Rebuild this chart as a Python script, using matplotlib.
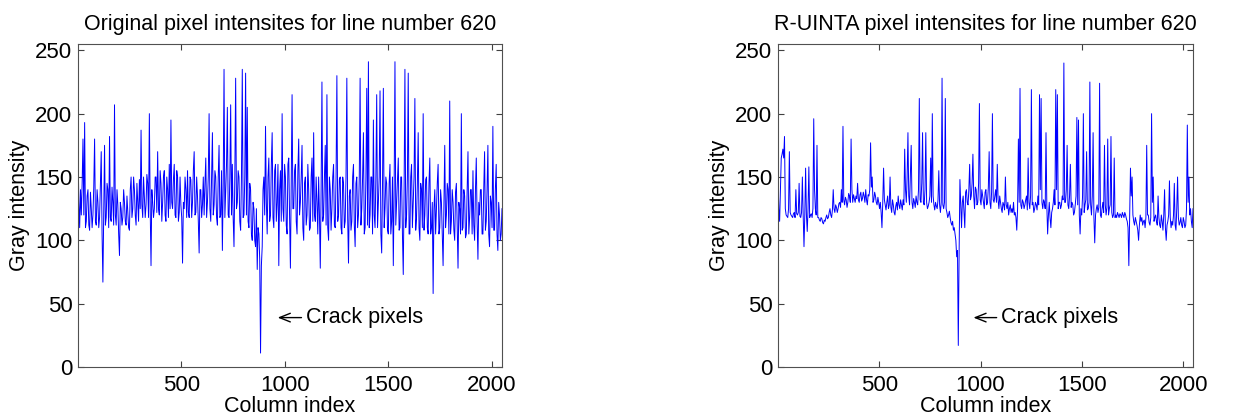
import matplotlib.pyplot as plt
import numpy as np

plt.rcParams['font.family'] = ['Liberation Sans', 'DejaVu Sans']

# gray levels, one sample every 8 columns
original = [
    172, 110, 120, 180, 193, 115, 140, 108, 125, 120, 180, 112, 130, 118, 170, 67,
    175, 118, 140, 182, 115, 130, 207, 112, 128, 88, 125, 118, 130, 112, 122, 108,
    150, 125, 140, 112, 130, 148, 187, 118, 135, 128, 145, 200, 80, 130, 125, 150,
    170, 120, 145, 130, 155, 115, 140, 160, 195, 125, 160, 118, 150, 122, 128, 82,
    125, 140, 155, 118, 148, 130, 170, 122, 135, 90, 140, 128, 120, 165, 130, 200,
    115, 185, 128, 150, 112, 175, 120, 92, 235, 140, 205, 118, 207, 160, 95, 228,
    130, 150, 108, 235, 120, 232, 205, 110, 140, 100, 125, 95, 77, 105, 11, 95,
    150, 190, 105, 165, 120, 185, 110, 160, 130, 80, 155, 200, 115, 150, 105, 165,
    78, 215, 125, 160, 105, 180, 130, 175, 100, 150, 120, 140, 110, 165, 185, 115,
    130, 150, 78, 225, 120, 175, 215, 100, 140, 125, 160, 110, 230, 120, 150, 105,
    145, 115, 228, 82, 140, 115, 160, 95, 150, 120, 228, 125, 185, 110, 220, 241,
    120, 150, 195, 110, 215, 130, 218, 90, 220, 125, 145, 105, 160, 115, 80, 241,
    130, 165, 110, 150, 73, 235, 120, 232, 105, 160, 130, 212, 118, 185, 100, 140,
    200, 120, 150, 105, 165, 110, 58, 140, 125, 160, 110, 130, 80, 175, 120, 140,
    210, 115, 130, 100, 145, 78, 125, 200, 110, 135, 105, 170, 118, 140, 155, 100,
    165, 85, 120, 140, 105, 170, 115, 175, 95, 130, 190, 108, 160, 92, 120, 105,
]
# band values between those samples (4 columns further on)
original_mid = [
    130, 140, 145, 120, 110, 135, 112, 138, 110, 142, 115, 140, 110, 145, 105, 120,
    112, 145, 110, 118, 142, 112, 120, 140, 105, 130, 112, 140, 115, 135, 110, 140,
    118, 150, 120, 145, 115, 125, 128, 150, 118, 152, 118, 125, 140, 118, 150, 122,
    125, 155, 115, 150, 120, 150, 118, 125, 130, 148, 120, 155, 115, 150, 118, 130,
    150, 118, 122, 150, 118, 155, 120, 150, 115, 140, 118, 150, 145, 118, 150, 125,
    150, 120, 155, 118, 150, 118, 155, 145, 118, 160, 120, 150, 120, 118, 150, 125,
    155, 115, 150, 118, 150, 120, 115, 145, 105, 130, 100, 125, 110, 85, 80, 140,
    120, 130, 150, 115, 160, 118, 155, 115, 160, 140, 115, 125, 160, 112, 160, 118,
    150, 125, 155, 115, 155, 120, 150, 110, 145, 112, 160, 108, 150, 115, 120, 150,
    105, 120, 140, 115, 150, 112, 110, 150, 108, 150, 112, 150, 115, 148, 110, 150,
    110, 150, 118, 135, 108, 150, 112, 145, 110, 150, 112, 150, 105, 150, 112, 110,
    150, 105, 120, 150, 110, 150, 105, 145, 110, 150, 108, 145, 105, 150, 140, 112,
    150, 108, 150, 105, 140, 110, 150, 105, 150, 110, 150, 108, 145, 110, 145, 110,
    108, 148, 110, 145, 105, 130, 125, 105, 145, 105, 140, 105, 130, 110, 145, 105,
    105, 140, 108, 138, 110, 130, 105, 108, 140, 102, 140, 105, 140, 105, 112, 140,
    115, 130, 140, 105, 140, 108, 140, 105, 135, 110, 108, 140, 105, 130, 100, 125,
]
ruinta = [
    150, 115, 165, 172, 182, 120, 118, 170, 120, 118, 122, 140, 120, 145, 118, 150,
    95, 157, 107, 158, 120, 118, 196, 125, 175, 118, 115, 117, 113, 115, 120, 118,
    125, 118, 140, 122, 126, 125, 130, 140, 190, 128, 132, 130, 135, 180, 130, 133,
    135, 145, 130, 138, 133, 135, 140, 128, 135, 177, 150, 132, 135, 128, 130, 130,
    110, 157, 128, 130, 125, 150, 122, 128, 120, 130, 135, 125, 128, 132, 172, 130,
    185, 128, 175, 125, 130, 135, 128, 212, 130, 185, 128, 185, 125, 130, 165, 200,
    128, 130, 125, 155, 122, 228, 125, 212, 122, 120, 118, 112, 108, 105, 87, 17,
    148, 110, 135, 110, 140, 128, 160, 135, 168, 125, 140, 130, 208, 128, 135, 125,
    140, 130, 170, 125, 200, 130, 140, 160, 125, 130, 122, 128, 150, 125, 120, 128,
    125, 130, 122, 108, 180, 220, 125, 130, 128, 135, 165, 125, 219, 130, 125, 128,
    135, 215, 212, 125, 130, 185, 105, 130, 110, 125, 140, 219, 215, 130, 125, 135,
    240, 130, 175, 125, 160, 130, 120, 128, 197, 195, 105, 120, 200, 128, 170, 125,
    225, 120, 185, 98, 125, 122, 224, 118, 130, 175, 120, 180, 125, 182, 118, 165,
    120, 122, 118, 120, 122, 118, 120, 115, 80, 157, 150, 115, 118, 112, 100, 120,
    118, 115, 110, 175, 120, 112, 200, 150, 118, 115, 135, 112, 120, 108, 140, 100,
    115, 147, 110, 112, 145, 108, 150, 112, 118, 110, 115, 112, 191, 150, 125, 110,
]
ruinta_mid = [
    125, 140, 168, 165, 125, 119, 125, 122, 119, 121, 118, 121, 122, 119, 122, 120,
    120, 120, 125, 118, 121, 125, 140, 120, 118, 116, 118, 114, 116, 118, 117, 122,
    120, 124, 125, 128, 122, 129, 126, 130, 132, 134, 126, 137, 130, 140, 136, 130,
    133, 132, 136, 131, 138, 130, 132, 136, 140, 142, 130, 138, 130, 134, 125, 122,
    130, 132, 124, 135, 128, 126, 132, 122, 127, 124, 128, 132, 124, 128, 140, 150,
    135, 150, 130, 133, 126, 130, 140, 132, 145, 130, 140, 130, 127, 135, 130, 135,
    124, 127, 132, 128, 130, 128, 130, 125, 118, 123, 114, 115, 110, 100, 92, 90,
    128, 130, 122, 138, 130, 140, 132, 145, 135, 142, 128, 145, 132, 140, 130, 138,
    128, 142, 130, 138, 132, 135, 130, 132, 135, 125, 130, 124, 128, 130, 125, 122,
    122, 120, 118, 125, 130, 128, 132, 125, 132, 124, 130, 135, 128, 122, 130, 124,
    128, 140, 130, 132, 125, 128, 120, 118, 122, 130, 128, 140, 125, 130, 128, 132,
    130, 140, 128, 135, 126, 128, 122, 135, 128, 120, 125, 135, 122, 132, 124, 130,
    128, 135, 118, 120, 128, 126, 120, 125, 122, 128, 126, 120, 128, 122, 120, 118,
    118, 120, 121, 118, 120, 122, 117, 110, 120, 135, 120, 112, 115, 108, 112, 115,
    112, 116, 118, 120, 114, 118, 130, 115, 120, 112, 118, 110, 115, 120, 110, 112,
    120, 118, 115, 120, 112, 125, 118, 114, 112, 118, 110, 125, 130, 120, 115, 125,
]
titles = ['Original pixel intensites for line number 620',
          'R-UINTA pixel intensites for line number 620']

fig = plt.figure(figsize=(12.35, 4.2), dpi=100)
ax1 = fig.add_axes([78 / 1235, 53 / 420, 424 / 1235, 323 / 420])
ax2 = fig.add_axes([778 / 1235, 53 / 420, 415 / 1235, 323 / 420])

series = [(original, original_mid), (ruinta, ruinta_mid)]
for ax, (vals, mids), title in zip([ax1, ax2], series, titles):
    y = np.column_stack([vals, mids]).ravel()
    cols = np.linspace(1, 2048, len(y))
    ax.plot(cols, y, color='blue', linewidth=0.7)
    ax.set_xlim(1, 2048)
    ax.set_ylim(0, 255)
    ax.set_xticks([500, 1000, 1500, 2000])
    ax.set_yticks([0, 50, 100, 150, 200, 250])
    ax.tick_params(direction='in', top=True, right=True, length=4,
                   labelsize=16, color='#404040')
    ax.tick_params(axis='x', pad=6)
    ax.tick_params(axis='y', pad=4)
    for s in ax.spines.values():
        s.set_color('#505050')
    ax.set_title(title, fontsize=15.5, pad=10)
    ax.set_xlabel('Column index', fontsize=15.5, labelpad=0)
    ax.set_ylabel('Gray intensity', fontsize=15.5, labelpad=4)
    ax.annotate('Crack pixels', xy=(965, 39), xytext=(1100, 39),
                fontsize=15.5, va='center', ha='left',
                arrowprops=dict(arrowstyle='->,head_length=0.5,head_width=0.2',
                                color='black', lw=1, shrinkA=1, shrinkB=0))

fig.savefig('out.png', dpi=100)
